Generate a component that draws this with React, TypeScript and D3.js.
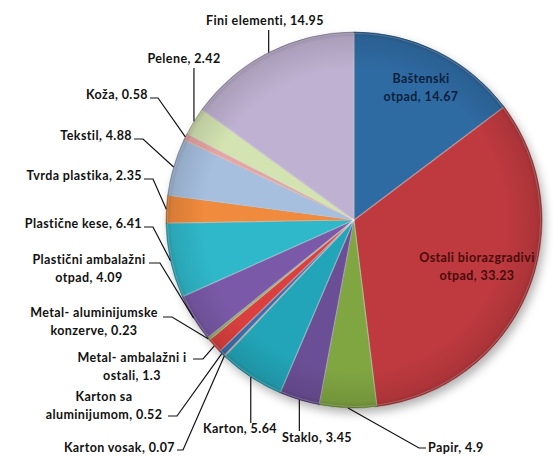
import React from "react";
import * as d3 from "d3";

const categories = [
  "Baštenski otpad",
  "Ostali biorazgradivi otpad",
  "Papir",
  "Staklo",
  "Karton",
  "Karton vosak",
  "Karton sa aluminijumom",
  "Metal- ambalažni i ostali",
  "Metal- aluminijumske konzerve",
  "Plastični ambalažni otpad",
  "Plastične kese",
  "Tvrda plastika",
  "Tekstil",
  "Koža",
  "Pelene",
  "Fini elementi",
];
const values = [14.67, 33.23, 4.9, 3.45, 5.64, 0.07, 0.52, 1.3, 0.23, 4.09, 6.41, 2.35, 4.88, 0.58, 2.42, 14.95];
const labelLines = [
  ["Baštenski", "otpad, 14.67"],
  ["Ostali biorazgradivi", "otpad, 33.23"],
  ["Papir, 4.9"],
  ["Staklo, 3.45"],
  ["Karton, 5.64"],
  ["Karton vosak, 0.07"],
  ["Karton sa", "aluminijumom, 0.52"],
  ["Metal- ambalažni i", "ostali, 1.3"],
  ["Metal- aluminijumske", "konzerve, 0.23"],
  ["Plastični ambalažni", "otpad, 4.09"],
  ["Plastične kese, 6.41"],
  ["Tvrda plastika, 2.35"],
  ["Tekstil, 4.88"],
  ["Koža, 0.58"],
  ["Pelene, 2.42"],
  ["Fini elementi, 14.95"],
];
const colors = [
  "#2f6ba3", "#bf3a3f", "#80a642", "#6b4f96", "#22a5b8", "#e07a2e",
  "#3b6fae", "#d9403f", "#8aad4a", "#7a5aa8", "#2fb8ca", "#f08a3c",
  "#a6bfdf", "#e6a5a3", "#d3e3b1", "#bfb1d1",
];

// label layout: text anchor position (x, baseline y), anchor, leader start [x,y] and optional elbow [x,y]
type Lay = { x: number; y: number; a: string; inside?: boolean; fill?: string; s?: [number, number]; e?: [number, number] };
const layout: Lay[] = [
  { x: 421, y: 83, a: "middle", inside: true, fill: "#0b1f3c" },
  { x: 477, y: 262, a: "middle", inside: true, fill: "#4a0b0b" },
  { x: 428, y: 452, a: "start", s: [426, 448], e: [419, 448] },
  { x: 317, y: 442, a: "middle", s: [0, 431] },
  { x: 240, y: 433, a: "middle", s: [0, 423] },
  { x: 175, y: 452, a: "end", s: [177, 450], e: [183, 450] },
  { x: 104, y: 401, a: "middle", s: [168, 416], e: [177, 416] },
  { x: 132, y: 362, a: "middle", s: [193, 359], e: [203, 359] },
  { x: 94, y: 317, a: "middle", s: [163, 317], e: [172, 317] },
  { x: 89, y: 264, a: "middle", s: [149, 263], e: [160, 263] },
  { x: 142, y: 228, a: "end", s: [144, 227], e: [153, 227] },
  { x: 142, y: 180, a: "end", s: [144, 179], e: [153, 179] },
  { x: 132, y: 140, a: "end", s: [134, 139], e: [143, 139] },
  { x: 148, y: 99, a: "end", s: [150, 98], e: [158, 98] },
  { x: 184, y: 63, a: "middle", s: [0, 68] },
  { x: 265, y: 25, a: "middle", s: [0, 30] },
];

const W = 553, H = 457;
const cx = 354, cy = 220, R = 188;

export default function App() {
  const pie = d3.pie<number>().sort(null).value((d) => d).startAngle(0).endAngle(2 * Math.PI);
  const arcs = pie(values);
  const arc = d3.arc<d3.PieArcDatum<number>>().innerRadius(0).outerRadius(R);
  const edge = (a: d3.PieArcDatum<number>) => {
    const m = (a.startAngle + a.endAngle) / 2;
    return [cx + R * Math.sin(m), cy - R * Math.cos(m)];
  };
  const font = "Lato, 'Open Sans', sans-serif";
  return (
    <svg width={W} height={H} style={{ position: "absolute", left: 0, top: 0, background: "#fff" }}>
      <defs>
        <filter id="sh" x="-20%" y="-20%" width="140%" height="140%">
          <feDropShadow dx="3" dy="5" stdDeviation="5" floodColor="#000" floodOpacity="0.3" />
        </filter>
        <radialGradient id="rg" cx="0.5" cy="0.5" r="0.5">
          <stop offset="0.8" stopColor="#000" stopOpacity="0" />
          <stop offset="0.97" stopColor="#000" stopOpacity="0.1" />
          <stop offset="1" stopColor="#000" stopOpacity="0.22" />
        </radialGradient>
      </defs>
      <g transform={`translate(${cx},${cy})`}>
        <circle r={R} fill="#fff" filter="url(#sh)" />
        {arcs.map((a, i) => (
          <path key={i} d={arc(a) || ""} fill={colors[i]} stroke={d3.color(colors[i])!.darker(1).formatHex()} strokeWidth={0.8} strokeOpacity={0.7} />
        ))}
        {arcs.map((a, i) => (
          <path key={"h" + i} d={d3.arc<d3.PieArcDatum<number>>().innerRadius(0).outerRadius(R - 1.5)(a) || ""} fill="none" stroke="#fff" strokeOpacity={0.25} strokeWidth={1.2} />
        ))}
        <circle r={R} fill="url(#rg)" />
      </g>
      {arcs.map((a, i) => {
        const L = layout[i];
        const [ex, ey] = edge(a);
        let leader: string | null = null;
        if (L.s) {
          const sx = L.s[0] === 0 ? ex : L.s[0];
          const pts: number[][] = [[sx, L.s[1]]];
          if (L.e) pts.push(L.e);
          pts.push([ex, ey]);
          leader = d3.line()(pts as [number, number][]);
        }
        return (
          <g key={"l" + i}>
            {leader && <path d={leader} fill="none" stroke="#111" strokeWidth={1.2} />}
            <text x={L.x} y={L.y} textAnchor={L.a} fontFamily={font} fontWeight={700} fontSize={12.5} letterSpacing={0.4} fill={L.fill || "#111"}>
              {labelLines[i].map((t, k) => (
                <tspan key={k} x={L.x} dy={k === 0 ? 0 : 17.5}>{t}</tspan>
              ))}
            </text>
          </g>
        );
      })}
    </svg>
  );
}
